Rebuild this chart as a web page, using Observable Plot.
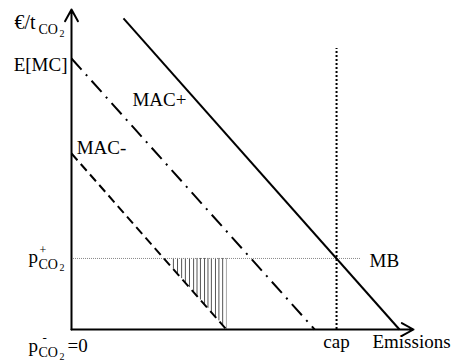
<!DOCTYPE html>
<html>
<head>
<meta charset="utf-8">
<script src="https://cdn.jsdelivr.net/npm/d3@7"></script>
<script src="https://cdn.jsdelivr.net/npm/@observablehq/plot@0.6"></script>
<style>
  html, body { margin: 0; padding: 0; background: #fff; }
</style>
</head>
<body>
<div id="chart"></div>
<script>
// ---- data (x: emissions 0..100, y: price 0..100) ----
const curveNames = ["MAC+", "E[MC]", "MAC-"];
const curveX1 = [15.2, 0, 0];
const curveY1 = [97.2, 84.7, 55];
const curveX2 = [95.9, 71.1, 45.3];
const curveY2 = [0, 0, 0];

const pricePlus = 22.2;   // p+_CO2 (MB level)
const mbEnd = 84.5;       // MB line right end
const capX = 77.5;        // emission cap
const capTop = 87.8;      // top of cap line

const hatchX = [29.8, 31.0, 32.2, 33.3, 34.5, 35.7, 36.7, 37.7, 38.9, 39.9, 40.9, 42.1, 43.1, 44.2, 45.3];
const hatchBottom = [18.8, 17.4, 15.9, 14.6, 13.1, 11.7, 10.4, 9.2, 7.8, 6.6, 5.3, 3.9, 2.7, 1.3, 0];

const yAxisLabel = ["€/t", "CO", "2"];
const pPlusLabel = ["p", "+", "CO", "2"];
const pZeroLabel = ["p", "-", "CO", "2", "=0"];
const xAxisLabel = "Emissions";
const capLabel = "cap";
const mbLabel = "MB";

// ---- build ----
const FONT = "Liberation Serif";
const curves = curveNames.map((name, i) => ({name, x1: curveX1[i], y1: curveY1[i], x2: curveX2[i], y2: curveY2[i]}));
const hatch = hatchX.map((x, i) => ({x, y1: pricePlus, y2: hatchBottom[i], last: i === hatchX.length - 1}));

const piece = (s, x, y, dx, dy, size, anchor = "start") =>
  Plot.text([{s, x, y}], {x: "x", y: "y", text: "s", dx, dy, fontSize: size, textAnchor: anchor,
    fill: "black", fontFamily: FONT});

const styleFor = {
  "MAC+": {dash: null},
  "E[MC]": {dash: "15,6.5,2,6.5"},
  "MAC-": {dash: "9,5"}
};

const marks = [
  // hatch
  Plot.ruleX(hatch.filter(d => !d.last), {x: "x", y1: "y1", y2: "y2", stroke: "#555", strokeWidth: 1}),
  Plot.ruleX(hatch.filter(d => d.last), {x: "x", y1: "y1", y2: "y2", stroke: "#aaa", strokeWidth: 1}),
  // MB line
  Plot.ruleY([pricePlus], {x1: 0, x2: mbEnd, stroke: "#888", strokeWidth: 1, strokeDasharray: "1,1"}),
  // cap
  Plot.ruleX([capX], {y1: 0, y2: capTop, stroke: "black", strokeWidth: 2, strokeDasharray: "2,2"}),
  // curves
  ...curves.map(c => Plot.link([c], {x1: "x1", y1: "y1", x2: "x2", y2: "y2", stroke: "black", strokeWidth: 2,
    strokeDasharray: styleFor[c.name].dash, strokeLinecap: "butt"})),
  // axes
  Plot.arrow([{x1: 0, y1: 0, x2: 0, y2: 100}], {x1: "x1", y1: "y1", x2: "x2", y2: "y2", stroke: "black", strokeWidth: 2, headLength: 10, headAngle: 58}),
  Plot.arrow([{x1: 0, y1: 0, x2: 100, y2: 0}], {x1: "x1", y1: "y1", x2: "x2", y2: "y2", stroke: "black", strokeWidth: 2, headLength: 10, headAngle: 58}),
  // y-axis label €/t_CO2
  piece(yAxisLabel[0], 0, 100, -57, 13, 20),
  piece(yAxisLabel[1], 0, 100, -33, 20.5, 14),
  piece(yAxisLabel[2], 0, 100, -12, 24, 10),
  // E[MC]
  piece(curveNames[1], 0, curveY1[1], -4, 6, 19, "end"),
  // MAC+, MAC-
  piece(curveNames[0], 17.8, 71.9, 0, 0, 19),
  piece(curveNames[2], 1.5, 56.6, 0, 0, 19),
  // p+_CO2
  piece(pPlusLabel[0], 0, pricePlus, -43, -2, 19),
  piece(pPlusLabel[1], 0, pricePlus, -32, -8, 12),
  piece(pPlusLabel[2], 0, pricePlus, -33, 6, 14),
  piece(pPlusLabel[3], 0, pricePlus, -12, 9, 10),
  // p-_CO2 = 0
  piece(pZeroLabel[0], 0, 0, -43, 16, 19),
  piece(pZeroLabel[1], 0, 0, -29, 8, 13),
  piece(pZeroLabel[2], 0, 0, -33, 23.5, 14),
  piece(pZeroLabel[3], 0, 0, -12, 27, 10),
  piece(pZeroLabel[4], 0, 0, -4, 16, 19),
  // MB
  piece(mbLabel, mbEnd, pricePlus, 9, 2, 19),
  // cap, Emissions
  piece(capLabel, capX, 0, 0, 12, 19, "middle"),
  piece(xAxisLabel, 100, 0, -2, 12, 19, "middle")
];

const chart = Plot.plot({
  width: 456,
  height: 361,
  marginLeft: 71,
  marginRight: 43,
  marginTop: 9,
  marginBottom: 32,
  x: {domain: [0, 100], axis: null},
  y: {domain: [0, 100], axis: null},
  style: {fontFamily: "'Liberation Serif', serif", background: "white", overflow: "visible"},
  marks
});
document.getElementById("chart").appendChild(chart);
</script>
</body>
</html>
